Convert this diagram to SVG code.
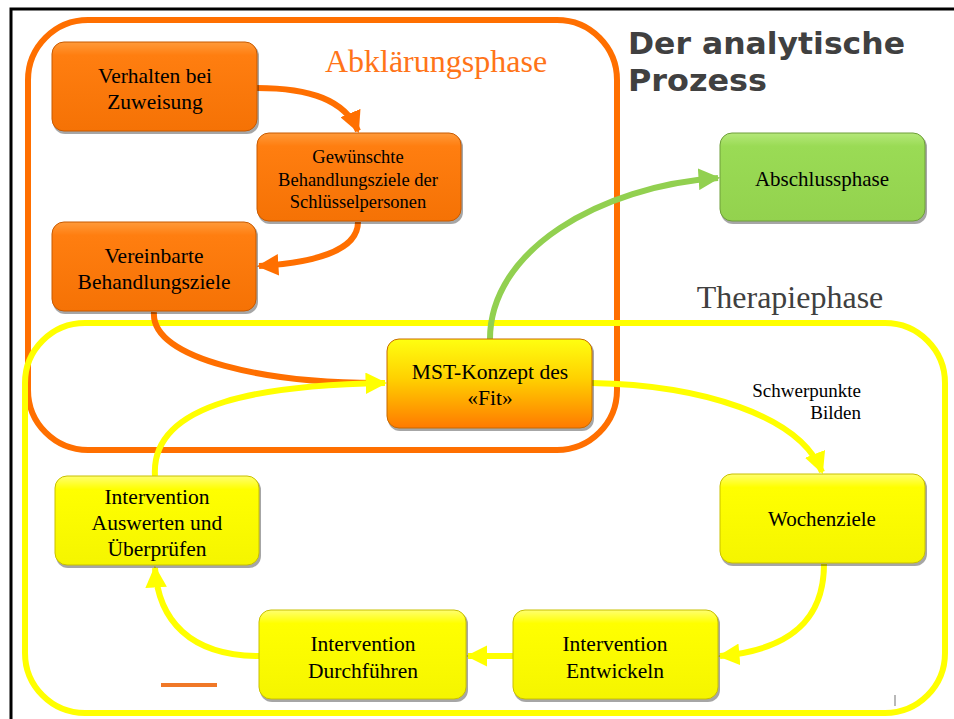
<svg xmlns="http://www.w3.org/2000/svg" width="954" height="719" viewBox="0 0 954 719">
<defs>
<linearGradient id="gOr" x1="0" y1="0" x2="0" y2="1"><stop offset="0" stop-color="#FF9A3A"/><stop offset="0.15" stop-color="#FF7E10"/><stop offset="1" stop-color="#F57205"/></linearGradient>
<linearGradient id="gYe" x1="0" y1="0" x2="0" y2="1"><stop offset="0" stop-color="#FFFF70"/><stop offset="0.15" stop-color="#FFFF00"/><stop offset="1" stop-color="#F5F500"/></linearGradient>
<linearGradient id="gGr" x1="0" y1="0" x2="0" y2="1"><stop offset="0" stop-color="#B5E87A"/><stop offset="0.15" stop-color="#9ADB55"/><stop offset="1" stop-color="#93D24E"/></linearGradient>
<linearGradient id="gMst" x1="0" y1="0" x2="0" y2="1"><stop offset="0" stop-color="#FFFF10"/><stop offset="0.45" stop-color="#FFD000"/><stop offset="1" stop-color="#FF7A00"/></linearGradient>
<marker id="aOr" viewBox="0 0 10 10" refX="9" refY="5" markerWidth="3.6" markerHeight="3.6" orient="auto" markerUnits="strokeWidth"><path d="M0,0 L10,5 L0,10 z" fill="#FF6F00"/></marker>
<marker id="aYe" viewBox="0 0 10 10" refX="9" refY="5" markerWidth="3.6" markerHeight="3.6" orient="auto" markerUnits="strokeWidth"><path d="M0,0 L10,5 L0,10 z" fill="#FFFF00"/></marker>
<marker id="aGr" viewBox="0 0 10 10" refX="9" refY="5" markerWidth="3.6" markerHeight="3.6" orient="auto" markerUnits="strokeWidth"><path d="M0,0 L10,5 L0,10 z" fill="#92D050"/></marker>
</defs>
<style>
.t{font-family:"Liberation Serif","Times New Roman",serif;fill:#000;text-anchor:middle}
.sh{fill:#000;opacity:0.35}
.nOr{fill:url(#gOr);stroke:#C85A00;stroke-width:1}
.nYe{fill:url(#gYe);stroke:#C8C000;stroke-width:1}
.nGr{fill:url(#gGr);stroke:#6E9E3A;stroke-width:1}
.nMst{fill:url(#gMst);stroke:#C86A00;stroke-width:1}
.cOr{fill:none;stroke:#FF6F00;stroke-width:6}
.cYe{fill:none;stroke:#FFFF00;stroke-width:6}
.cGr{fill:none;stroke:#92D050;stroke-width:6}
</style>
<rect width="954" height="719" fill="#fff"/>
<path d="M11,719 L11,9 L954,9" fill="none" stroke="#000" stroke-width="3"/>

<g id="phases">
<rect x="28" y="20" width="589" height="430" rx="60" fill="none" stroke="#FF6F00" stroke-width="6"/>
<rect x="25" y="323" width="920" height="390" rx="60" fill="none" stroke="#FFFF00" stroke-width="6"/>
<text x="436" y="72" font-family="Liberation Serif, serif" font-size="32" fill="#FF7418" text-anchor="middle">Abklärungsphase</text>
<text x="790" y="308" font-family="Liberation Serif, serif" font-size="32" fill="#404040" text-anchor="middle">Therapiephase</text>
<text font-family="DejaVu Sans, Verdana, sans-serif" font-size="31" font-weight="bold" fill="#404040"><tspan x="628" y="54" textLength="277" lengthAdjust="spacingAndGlyphs">Der analytische</tspan><tspan x="628" y="91" textLength="139" lengthAdjust="spacingAndGlyphs">Prozess</tspan></text>
<line x1="161" y1="685" x2="217" y2="685" stroke="#F07828" stroke-width="4"/>
<line x1="895" y1="695" x2="895" y2="706" stroke="#A0A0A0" stroke-width="1.5"/>
</g>

<g id="connectors">
<path class="cOr" d="M154,312 C150,360 270,384 385,383"/>
<path class="cYe" d="M155,476 C150,400 270,385 385,383" marker-end="url(#aYe)"/>
<path class="cOr" d="M257,88 C310,88 345,100 358,131" marker-end="url(#aOr)"/>
<path class="cOr" d="M358,222 C358,252 310,263 259,266" marker-end="url(#aOr)"/>
<path class="cGr" d="M490,339 C490,250 600,186 718,178" marker-end="url(#aGr)"/>
<path class="cYe" d="M592,383 C700,385 800,415 822,472" marker-end="url(#aYe)"/>
<path class="cYe" d="M824,564 C824,620 790,650 720,656" marker-end="url(#aYe)"/>
<path class="cYe" d="M513,656 L468,656" marker-end="url(#aYe)"/>
<path class="cYe" d="M259,656 C190,656 158,620 155,568" marker-end="url(#aYe)"/>
<text x="861" y="397" font-family="Liberation Serif, serif" font-size="19" text-anchor="end">Schwerpunkte</text>
<text x="861" y="419" font-family="Liberation Serif, serif" font-size="19" text-anchor="end">Bilden</text>
</g>

<g id="n-verhalten">
<rect class="sh" x="53" y="44" width="206" height="90" rx="12"/>
<rect class="nOr" x="52" y="42" width="205" height="89" rx="12"/>
<text class="t" font-size="21.5"><tspan x="155" y="83">Verhalten bei</tspan><tspan x="155" y="109">Zuweisung</tspan></text>
</g>
<g id="n-gewuenschte">
<rect class="sh" x="258" y="135" width="205" height="89" rx="12"/>
<rect class="nOr" x="257" y="133" width="204" height="88" rx="12"/>
<text class="t" font-size="18.5"><tspan x="358" y="163">Gewünschte</tspan><tspan x="358" y="186">Behandlungsziele der</tspan><tspan x="358" y="208">Schlüsselpersonen</tspan></text>
</g>
<g id="n-vereinbarte">
<rect class="sh" x="53" y="224" width="205" height="90" rx="12"/>
<rect class="nOr" x="52" y="222" width="204" height="89" rx="12"/>
<text class="t" font-size="21.5"><tspan x="154" y="263">Vereinbarte</tspan><tspan x="154" y="289">Behandlungsziele</tspan></text>
</g>
<g id="n-mst">
<rect class="sh" x="388" y="341" width="206" height="90" rx="12"/>
<rect class="nMst" x="387" y="339" width="205" height="89" rx="12"/>
<text class="t" font-size="21.5"><tspan x="490" y="379">MST-Konzept des</tspan><tspan x="490" y="405">«Fit»</tspan></text>
</g>
<g id="n-abschluss">
<rect class="sh" x="721" y="135" width="206" height="89" rx="12"/>
<rect class="nGr" x="720" y="133" width="205" height="88" rx="12"/>
<text class="t" font-size="21" x="822" y="186">Abschlussphase</text>
</g>
<g id="n-wochenziele">
<rect class="sh" x="721" y="476" width="206" height="90" rx="12"/>
<rect class="nYe" x="720" y="474" width="205" height="89" rx="12"/>
<text class="t" font-size="21" x="822" y="526">Wochenziele</text>
</g>
<g id="n-entwickeln">
<rect class="sh" x="514" y="612" width="206" height="90" rx="12"/>
<rect class="nYe" x="513" y="610" width="205" height="89" rx="12"/>
<text class="t" font-size="21.5"><tspan x="615" y="651">Intervention</tspan><tspan x="615" y="678">Entwickeln</tspan></text>
</g>
<g id="n-durchfuehren">
<rect class="sh" x="260" y="612" width="208" height="90" rx="12"/>
<rect class="nYe" x="259" y="610" width="207" height="89" rx="12"/>
<text class="t" font-size="21.5"><tspan x="363" y="651">Intervention</tspan><tspan x="363" y="678">Durchführen</tspan></text>
</g>
<g id="n-auswerten">
<rect class="sh" x="56" y="478" width="205" height="90" rx="12"/>
<rect class="nYe" x="55" y="476" width="204" height="89" rx="12"/>
<text class="t" font-size="21.5"><tspan x="157" y="504">Intervention</tspan><tspan x="157" y="530">Auswerten und</tspan><tspan x="157" y="556">Überprüfen</tspan></text>
</g>
</svg>
